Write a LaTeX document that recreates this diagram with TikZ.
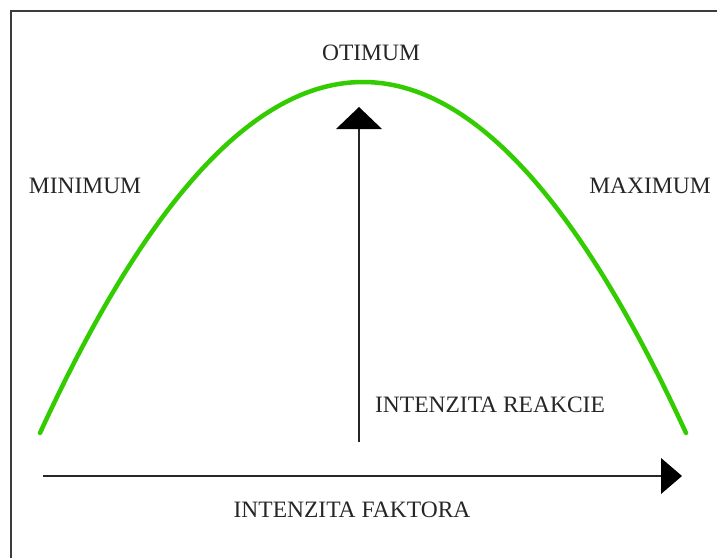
\documentclass[tikz,border=0pt]{standalone}
\usepackage{fontspec}
\setmainfont{Liberation Serif}
\usetikzlibrary{arrows.meta}
\definecolor{curvegreen}{RGB}{51,204,0}
\definecolor{framegray}{RGB}{60,60,60}
\begin{document}
\begin{tikzpicture}[x=1pt,y=-1pt,
  lbl/.style={inner sep=0pt,font=\fontsize{23.5}{25}\selectfont,text=black!85},
  axis/.style={line width=1.6pt,black!85},
  curve/.style={line width=4.5pt,curvegreen,line cap=round}]
\useasboundingbox (0,0) rectangle (717,557);
% frame (right and bottom edges outside the picture)
\draw[line width=2pt,framegray] (11,600) -- (11,11) -- (760,11);
% named points
\coordinate (hstart) at (43,476);
\coordinate (hend) at (661,476);
\coordinate (vstart) at (359,442);
\coordinate (vend) at (359,129);
\coordinate (cl) at (40,433);
\coordinate (cr) at (686,433);
% axes
\draw[axis] (hstart) -- (hend);
\fill[black] (661,458) -- (682,476) -- (661,494) -- cycle;
\draw[axis] (vstart) -- (vend);
\fill[black] (336,129) -- (359,107) -- (382,129) -- cycle;
% curve
\draw[curve] (cl) .. controls (255,-35) and (471,-35) .. (cr);
% labels
\node[lbl] (otimum) at (371,53) {OTIMUM};
\node[lbl] (minimum) at (85,186) {MINIMUM};
\node[lbl] (maximum) at (650,186) {MAXIMUM};
\node[lbl] (reakcie) at (490,405) {INTENZITA REAKCIE};
\node[lbl] (faktora) at (352,510) {INTENZITA FAKTORA};
\end{tikzpicture}
\end{document}
